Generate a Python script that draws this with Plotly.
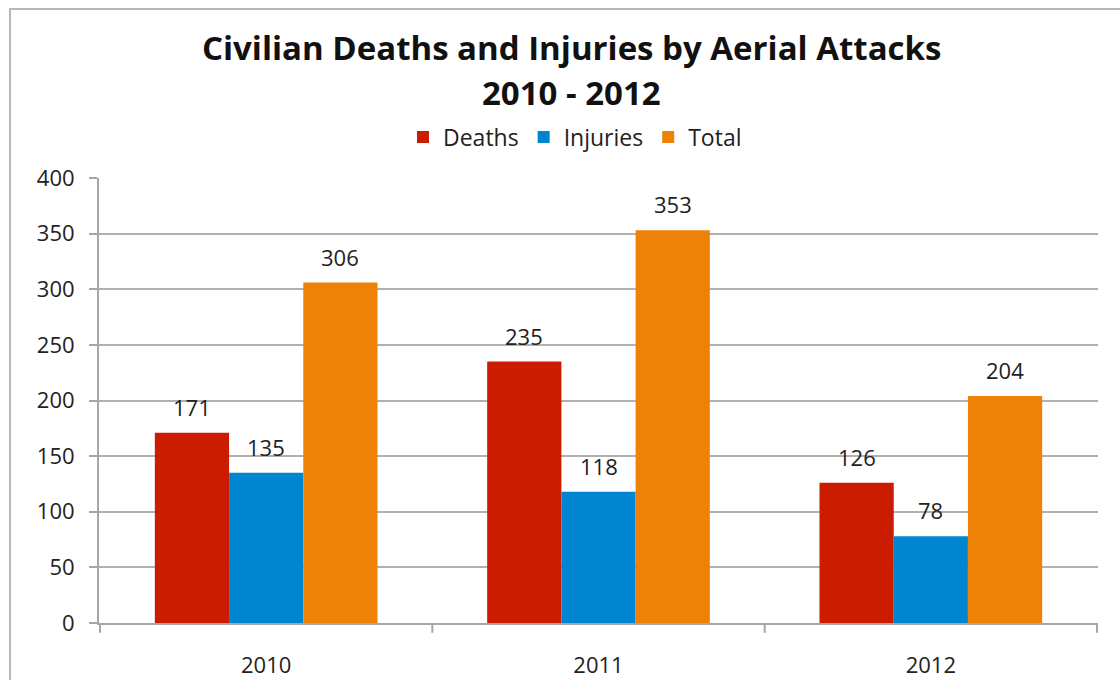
import plotly.graph_objects as go

years = ["2010", "2011", "2012"]
deaths = [171, 235, 126]
injuries = [135, 118, 78]
total = [306, 353, 204]
y_ticks = [0, 50, 100, 150, 200, 250, 300, 350, 400]
title_lines = ["Civilian Deaths and Injuries by Aerial Attacks", "2010 - 2012"]

series = [("Deaths", deaths, "#CC1C00"), ("Injuries", injuries, "#0085D0"), ("Total", total, "#EE8208")]

BARGAP = 0.33
bar_w = (1 - BARGAP) / len(series)
FONT = "Open Sans"
L, R = 99, 22
PW = 1120 - L - R

fig = go.Figure()
for k, (name, vals, col) in enumerate(series):
    fig.add_trace(go.Bar(x=years, y=vals, name=name, marker_color=col, marker_line_width=0))
    off = (k - (len(series) - 1) / 2) * bar_w
    for i, v in enumerate(vals):
        fig.add_annotation(x=i + off, y=v, xref="x", yref="y", text=str(v),
                           showarrow=False, yanchor="bottom", yshift=9,
                           font=dict(family=FONT, size=22, color="#222"))

# title lines (paper coords above plot area)
for line, ypos in zip(title_lines, [(623 - 47) / 445, (623 - 92) / 445]):
    fig.add_annotation(x=(571 - L) / PW, y=ypos, xref="paper", yref="paper", text=f"<b>{line}</b>",
                       showarrow=False, xanchor="center", yanchor="middle",
                       font=dict(family=FONT, size=33, color="#111"))

fig.update_layout(
    width=1120, height=680,
    margin=dict(l=L, r=R, t=178, b=57),
    paper_bgcolor="white", plot_bgcolor="white",
    barmode="group", bargap=BARGAP, bargroupgap=0,
    legend=dict(
        orientation="h", x=(575 - L) / PW, xanchor="center", y=1.092, yanchor="middle",
        font=dict(family=FONT, size=23, color="#222"),
        itemwidth=30, traceorder="normal",
    ),
    showlegend=True,
    xaxis=dict(
        showline=True, linecolor="#a6a6a6", linewidth=2, automargin=False,
        ticks="", tickfont=dict(family=FONT, size=22, color="#222"),
        ticklabelstandoff=22,
    ),
    yaxis=dict(
        range=[0, 400], tickvals=y_ticks, showgrid=True, gridcolor="#b0b0b0",
        gridwidth=2, showline=True, linecolor="#a6a6a6", linewidth=2, automargin=False,
        ticks="outside", ticklen=8, tickcolor="#a6a6a6", tickwidth=2,
        tickfont=dict(family=FONT, size=22, color="#222"),
        ticklabelstandoff=10, zeroline=False,
    ),
)

# category boundary tick marks on the x axis
for xb in [-0.5, 0.5, 1.5, 2.5]:
    fig.add_shape(type="line", xref="x", yref="paper", x0=xb, x1=xb, y0=0, y1=-0.022,
                  line=dict(color="#a6a6a6", width=2))

# outer frame of the original chart
fig.add_shape(type="rect", xref="paper", yref="paper",
              x0=(10 - L) / PW, x1=1.05, y0=-0.2, y1=(623 - 9) / 445,
              line=dict(color="#b8b8b8", width=2), layer="below")

fig.write_html("out.html", config={"displayModeBar": False},
               post_script="document.body.style.margin='0';document.body.style.overflow='hidden';")
